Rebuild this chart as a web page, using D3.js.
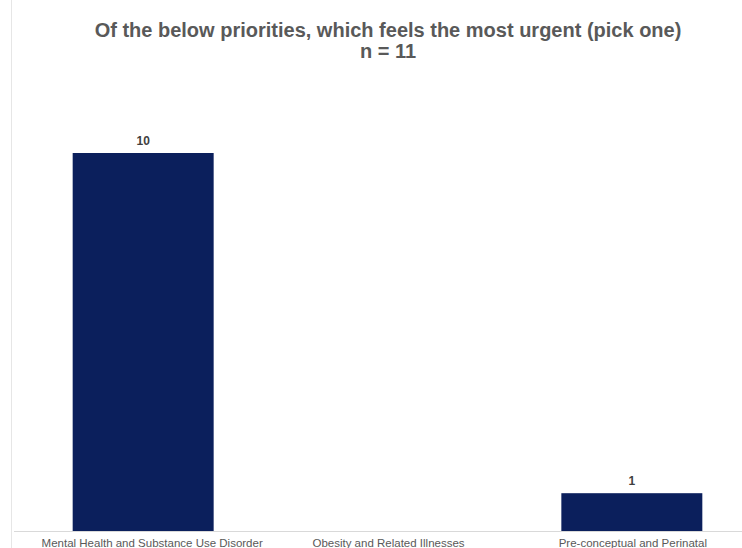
<!DOCTYPE html>
<html><head><meta charset="utf-8">
<script src="https://cdn.jsdelivr.net/npm/d3@7"></script>
<style>html,body{margin:0;padding:0;background:#fff;}svg{display:block;}</style>
</head><body>
<svg id="chart" width="742" height="548"></svg>
<script>
const categories = ["Mental Health and Substance Use Disorder", "Obesity and Related Illnesses", "Pre-conceptual and Perinatal"];
const values = [10, null, 1];
const titleLines = ["Of the below priorities, which feels the most urgent (pick one)", "n = 11"];

const svg = d3.select("#chart");
const W = 742, H = 548;
const baseY = 531;

const x = d3.scaleBand().domain(categories).range([21, 754]).paddingInner(0.423).paddingOuter(0.2115);
const y = d3.scaleLinear().domain([0, 10]).range([baseY, 153]);

// left faint frame line
svg.append("line").attr("x1", 11.5).attr("x2", 11.5).attr("y1", 0).attr("y2", H)
  .attr("stroke", "#e6e6e6").attr("stroke-width", 1);

// bars
const data = categories.map((c, i) => ({c, v: values[i]})).filter(d => d.v != null);
svg.selectAll("rect.bar").data(data).join("rect").attr("class", "bar")
  .attr("x", d => x(d.c)).attr("width", x.bandwidth())
  .attr("y", d => y(d.v)).attr("height", d => baseY - y(d.v))
  .attr("fill", "#0b1f5c");

// value labels
svg.selectAll("text.val").data(data).join("text").attr("class", "val")
  .attr("x", d => x(d.c) + x.bandwidth() / 2).attr("y", d => y(d.v) - 8)
  .attr("text-anchor", "middle").attr("font-family", "Liberation Sans, Arial, sans-serif")
  .attr("font-size", 12).attr("font-weight", "bold").attr("fill", "#404040")
  .text(d => d.v);

// x axis
const xAxis = d3.axisBottom(x).tickSize(0).tickPadding(0);
const gx = svg.append("g").attr("transform", `translate(0,${baseY})`).call(xAxis);
gx.select(".domain").attr("stroke", "#d9d9d9").attr("d", `M14,0.5H742`);
gx.selectAll("text").attr("font-family", "Liberation Sans, Arial, sans-serif")
  .attr("font-size", 11.5).attr("fill", "#595959").attr("dy", null).attr("y", 16)
  .attr("dx", (d, i) => i === 0 ? 9 : 1);

// title
svg.selectAll("text.title").data(titleLines).join("text").attr("class", "title")
  .attr("x", 388).attr("y", (d, i) => 37 + i * 21)
  .attr("text-anchor", "middle").attr("font-family", "Liberation Sans, Arial, sans-serif")
  .attr("font-size", 20).attr("font-weight", "bold").attr("fill", "#595959")
  .text(d => d);
</script>
</body></html>
